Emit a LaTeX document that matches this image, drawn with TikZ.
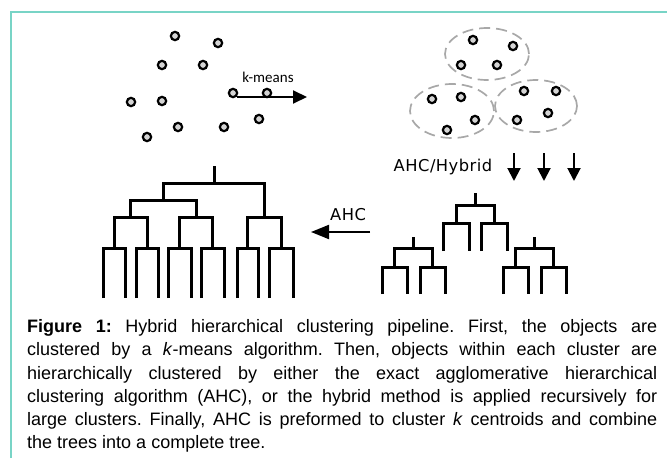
\documentclass[tikz,border=0pt]{standalone}
\usepackage{fontspec}
\setmainfont{Liberation Sans}
\newfontfamily\lblfont[LetterSpace=3]{DejaVu Sans}
\newfontfamily\kmfont{Carlito}
\usetikzlibrary{arrows.meta,shapes.geometric}

\definecolor{frameteal}{RGB}{120,212,198}
\definecolor{dotfill}{RGB}{212,212,212}
\definecolor{ringgray}{RGB}{168,168,168}

\begin{document}
\frenchspacing
\begin{tikzpicture}[x=1pt,y=-1pt,
  obj/.style={circle,draw=black,line width=2.2pt,fill=dotfill,minimum size=8.3pt,inner sep=0pt},
  ring/.style={draw=ringgray,line width=1.7pt,dash pattern=on 11pt off 6pt},
  branch/.style={line width=3pt,line join=miter},
  flow/.style={line width=2pt,-{Triangle[length=14pt,width=13pt]}},
  caprow/.style={anchor=base west,inner sep=0pt,font=\fontsize{18}{22}\selectfont}]

\useasboundingbox (0,0) rectangle (667,460);

% frame lines
\draw[frameteal,line width=2pt] (11,458) -- (11,12) -- (667,12);

% unclustered objects
\foreach \n/\x/\y in {a/175/36,b/218/43,c/162/65,d/203/65,e/131/102,f/162/101,
    g/233/93,h/267/93,i/259/119,j/224/127,k/178/127,l/147/137}
  \node[obj] (o\n) at (\x,\y) {};

% k-means step
\coordinate (km1) at (237,97);
\coordinate (km2) at (307,97);
\draw[flow] (km1) -- (km2);
\node[anchor=base,inner sep=0pt,font=\kmfont\fontsize{15}{18}\selectfont] (kmlab) at (268,82) {k-means};

% three clusters
\node[ring,ellipse,minimum width=84pt,minimum height=52pt,inner sep=0pt] (c1) at (487,54) {};
\node[ring,ellipse,minimum width=84pt,minimum height=54pt,inner sep=0pt] (c2) at (452,111) {};
\node[ring,ellipse,minimum width=82pt,minimum height=52pt,inner sep=0pt] (c3) at (536,106) {};
\foreach \n/\x/\y in {a/473/40,b/513/46,c/461/65,d/497/65,
    e/432/99,f/461/97,g/475/120,h/447/130,
    i/524/91,j/556/91,k/548/113,l/517/120}
  \node[obj] (p\n) at (\x,\y) {};

% AHC/Hybrid step
\node[anchor=base,inner sep=0pt,font=\lblfont\fontsize{16.3}{19}\selectfont] (hyblab) at (443,171) {AHC/Hybrid};
\foreach \n/\x in {1/514,2/544,3/574}{
  \coordinate (d\n a) at (\x,153);
  \coordinate (d\n b) at (\x,181);
  \draw[flow,-{Triangle[length=13pt,width=13pt]}] (d\n a) -- (d\n b);
}

% per-cluster trees
\draw[branch] (443,251) -- (443,223) -- (469,223) -- (469,251);
\draw[branch] (481,251) -- (481,223) -- (507,223) -- (507,251);
\draw[branch] (456,223) -- (456,205) -- (494,205) -- (494,223);
\draw[branch] (475,205) -- (475,193);

\draw[branch] (382,294) -- (382,267) -- (407,267) -- (407,294);
\draw[branch] (420,294) -- (420,267) -- (445,267) -- (445,294);
\draw[branch] (394.5,267) -- (394.5,248) -- (432.5,248) -- (432.5,267);
\draw[branch] (413.5,248) -- (413.5,237);

\draw[branch] (503,294) -- (503,267) -- (528,267) -- (528,294);
\draw[branch] (541,294) -- (541,267) -- (566,267) -- (566,294);
\draw[branch] (515.5,267) -- (515.5,248) -- (553.5,248) -- (553.5,267);
\draw[branch] (534.5,248) -- (534.5,237);

% AHC step
\coordinate (ah1) at (370,232);
\coordinate (ah2) at (311,232);
\draw[flow,-{Triangle[length=18pt,width=14pt]}] (ah1) -- (ah2);
\node[anchor=base,inner sep=0pt,font=\lblfont\fontsize{16.3}{19}\selectfont] (ahclab) at (348,220) {AHC};

% combined tree
\foreach \l/\r in {103/125,136/158,168/191,201/224,237/258,269/293}
  \draw[branch] (\l,298) -- (\l,248) -- (\r,248) -- (\r,298);
\draw[branch] (114,248) -- (114,217) -- (147,217) -- (147,248);
\draw[branch] (179.5,248) -- (179.5,217) -- (212.5,217) -- (212.5,248);
\draw[branch] (247.5,248) -- (247.5,217) -- (281,217) -- (281,248);
\draw[branch] (130.5,217) -- (130.5,200) -- (196,200) -- (196,217);
\draw[branch] (163,200) -- (163,183) -- (264,183) -- (264,217);
\draw[branch] (214,183) -- (214,166);

% caption
\node[caprow] (cap1) at (27,332.7) {\makebox[630pt][s]{\textbf{Figure 1:} Hybrid hierarchical clustering pipeline. First, the objects are}};
\node[caprow] (cap2) at (27,355.9) {\makebox[630pt][s]{clustered by a \textit{k}-means algorithm. Then, objects within each cluster are}};
\node[caprow] (cap3) at (27,379.1) {\makebox[630pt][s]{hierarchically clustered by either the exact agglomerative hierarchical}};
\node[caprow] (cap4) at (27,402.3) {\makebox[630pt][s]{clustering algorithm (AHC), or the hybrid method is applied recursively for}};
\node[caprow] (cap5) at (27,425.5) {\makebox[630pt][s]{large clusters. Finally, AHC is preformed to cluster \textit{k} centroids and combine}};
\node[caprow] (cap6) at (27,448.7) {the trees into a complete tree.};
\end{tikzpicture}
\end{document}
